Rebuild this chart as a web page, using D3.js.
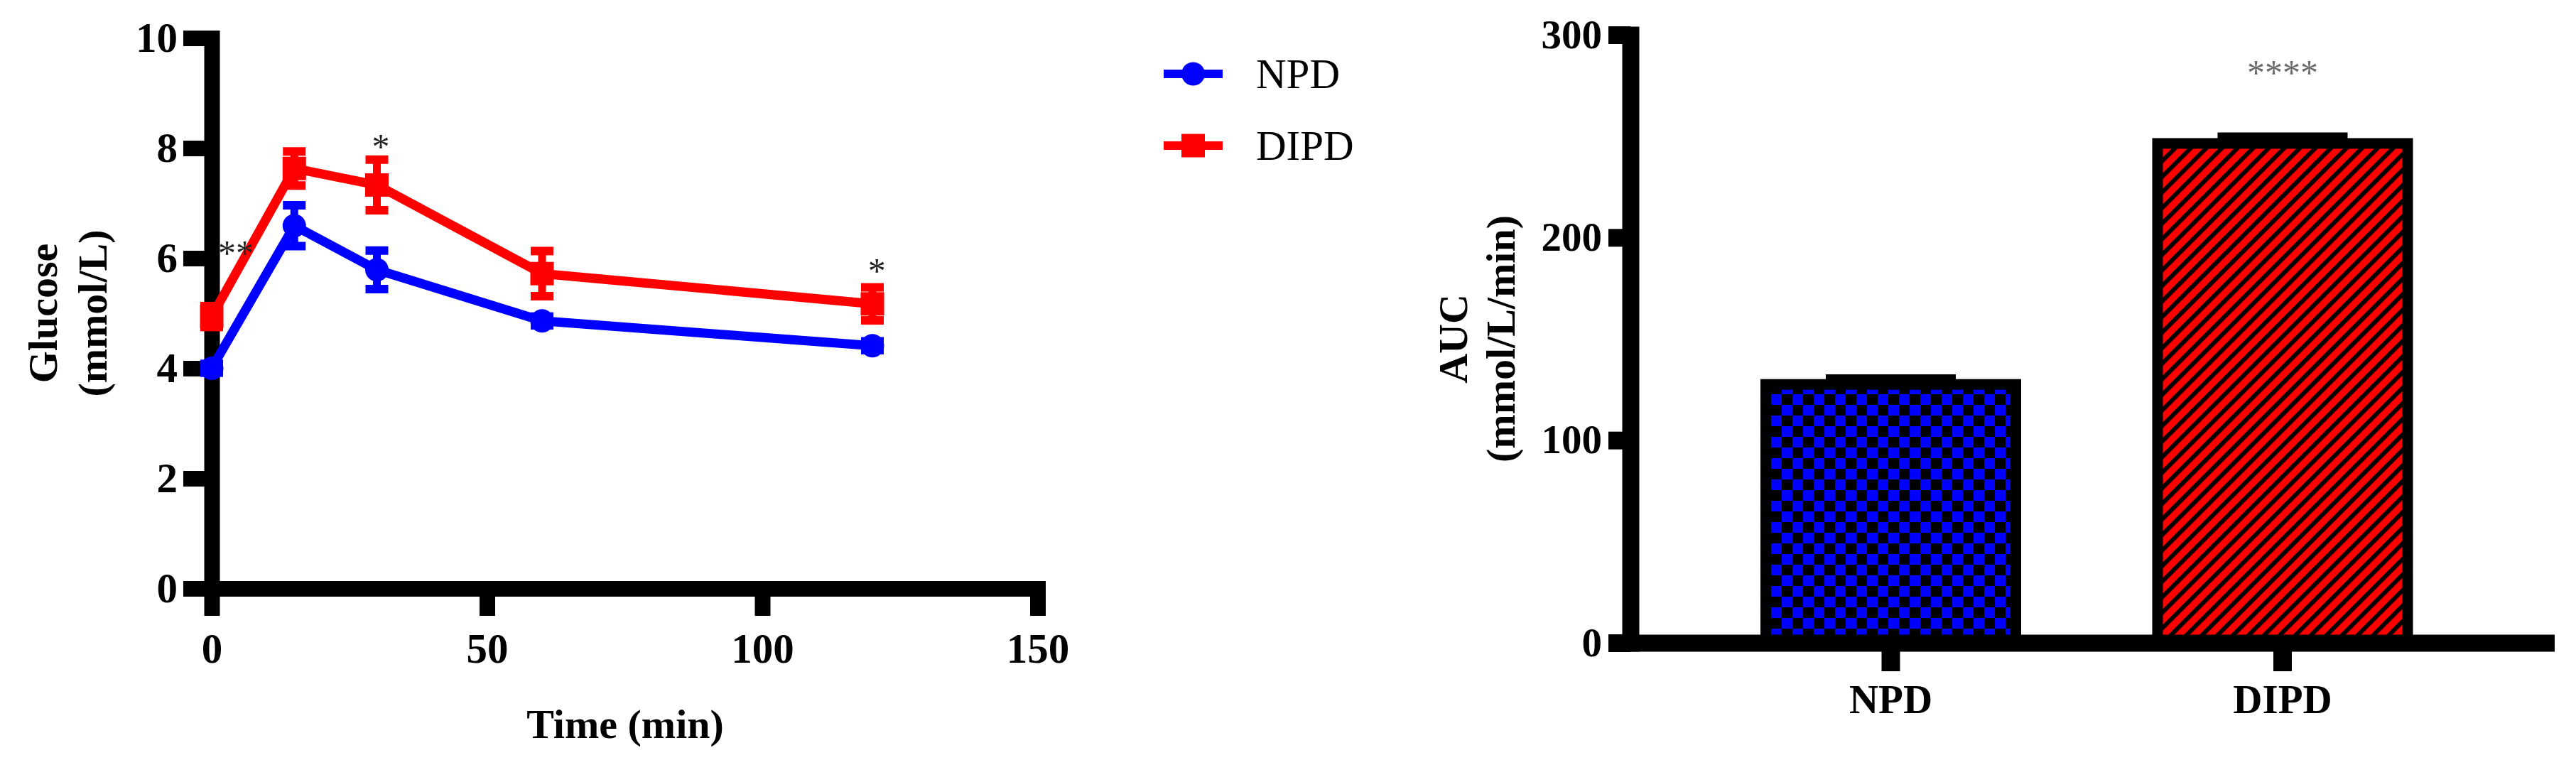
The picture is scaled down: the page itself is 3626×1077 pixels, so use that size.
<!DOCTYPE html>
<html>
<head>
<meta charset="utf-8">
<script src="https://cdn.jsdelivr.net/npm/d3@7"></script>
<style>
  html, body { margin: 0; padding: 0; background: #fff; }
  svg { display: block; }
</style>
</head>
<body>
<svg id="chart" width="3626" height="1077"></svg>
<script>
// ---------------- DATA ----------------
const times = [0, 15, 30, 60, 120];
const npdMean = [4.0, 6.59, 5.79, 4.86, 4.41];
const npdSem = [0.08, 0.37, 0.35, 0.08, 0.08];
const dipdMean = [4.94, 7.63, 7.33, 5.72, 5.17];
const dipdSem = [0.19, 0.31, 0.46, 0.41, 0.30];
const seriesNames = ["NPD", "DIPD"];
const glucoseTicks = [0, 2, 4, 6, 8, 10];
const timeTicks = [0, 50, 100, 150];
const curveStars = [
  { t: 4.4, v: 6.2, label: "**" },
  { t: 30.7, v: 8.14, label: "*" },
  { t: 120.8, v: 5.88, label: "*" }
];
const aucGroups = ["NPD", "DIPD"];
const aucMean = [127.5, 246.4];
const aucSem = [2.5, 3.0];
const aucTicks = [0, 100, 200, 300];
const barStars = [{ group: "DIPD", v: 284.4, label: "****" }];

// ---------------- SETUP ----------------
const FONT = "'Liberation Serif', 'Times New Roman', Times, serif";
const BLUE = "#0000ff", RED = "#ff0000";
const svg = d3.select("#chart");
svg.append("rect").attr("width", 3626).attr("height", 1077).attr("fill", "#fff");

const defs = svg.append("defs");
// checkerboard for NPD bar
const chk = defs.append("pattern").attr("id", "checker")
  .attr("patternUnits", "userSpaceOnUse").attr("width", 30).attr("height", 30)
  .attr("x", 2493).attr("y", 0);
chk.append("rect").attr("width", 30).attr("height", 30).attr("fill", BLUE);
chk.append("rect").attr("width", 15).attr("height", 15).attr("fill", "#000");
chk.append("rect").attr("x", 15).attr("y", 15).attr("width", 15).attr("height", 15).attr("fill", "#000");
// diagonal hatch for DIPD bar
const hat = defs.append("pattern").attr("id", "hatch")
  .attr("patternUnits", "userSpaceOnUse").attr("width", 15.5).attr("height", 20)
  .attr("patternTransform", "rotate(45)");
hat.append("rect").attr("width", 15.5).attr("height", 20).attr("fill", RED);
hat.append("rect").attr("width", 6).attr("height", 20).attr("fill", "#000");

// ---------------- LEFT: line chart ----------------
const x = d3.scaleLinear().domain([0, 150]).range([298, 1460.5]);
const y = d3.scaleLinear().domain([0, 10]).range([828.5, 53.5]);

function styleAxis(g, w, fs) {
  g.select(".domain").attr("stroke", "#000").attr("stroke-width", w).attr("stroke-linecap", "square");
  g.selectAll(".tick line").attr("stroke", "#000").attr("stroke-width", w);
  g.selectAll(".tick text").attr("fill", "#000").attr("font-family", FONT)
    .attr("font-weight", "bold").attr("font-size", fs);
}

const gy = svg.append("g").attr("transform", `translate(${x(0)},0)`)
  .call(d3.axisLeft(y).tickValues(glucoseTicks).tickSize(40).tickSizeOuter(0).tickPadding(8));
styleAxis(gy, 22, 59);

const gx = svg.append("g").attr("transform", `translate(0,${y(0)})`)
  .call(d3.axisBottom(x).tickValues(timeTicks).tickSize(38.5).tickSizeOuter(0).tickPadding(24.5));
styleAxis(gx, 22, 59);

// axis titles
svg.append("text").attr("x", 880).attr("y", 1039).attr("text-anchor", "middle")
  .attr("font-family", FONT).attr("font-weight", "bold").attr("font-size", 58).text("Time (min)");
const ylab = svg.append("g").attr("font-family", FONT).attr("font-weight", "bold")
  .attr("font-size", 58).attr("text-anchor", "middle");
ylab.append("text").attr("transform", `translate(80,${(y(0) + y(10)) / 2}) rotate(-90)`).text("Glucose");
ylab.append("text").attr("transform", `translate(150,${(y(0) + y(10)) / 2}) rotate(-90)`).text("(mmol/L)");

const series = [
  { name: seriesNames[0], mean: npdMean, sem: npdSem, color: BLUE, shape: "circle" },
  { name: seriesNames[1], mean: dipdMean, sem: dipdSem, color: RED, shape: "square" }
];

const line = d3.line().x(d => x(d.t)).y(d => y(d.m));

function drawMarker(g, shape, cx, cy, color) {
  if (shape === "circle") {
    g.append("circle").attr("cx", cx).attr("cy", cy).attr("r", 16.5).attr("fill", color);
  } else {
    g.append("rect").attr("x", cx - 16.5).attr("y", cy - 16.5).attr("width", 33).attr("height", 33).attr("fill", color);
  }
}

series.forEach(s => {
  const pts = times.map((t, i) => ({ t, m: s.mean[i], e: s.sem[i] }));
  const g = svg.append("g");
  g.append("path").datum(pts).attr("d", line).attr("fill", "none")
    .attr("stroke", s.color).attr("stroke-width", 13).attr("stroke-linejoin", "round");
  pts.forEach(p => {
    const cx = x(p.t);
    g.append("line").attr("x1", cx).attr("x2", cx).attr("y1", y(p.m - p.e)).attr("y2", y(p.m + p.e))
      .attr("stroke", s.color).attr("stroke-width", 11);
    [p.m - p.e, p.m + p.e].forEach(v => {
      g.append("line").attr("x1", cx - 16).attr("x2", cx + 16).attr("y1", y(v)).attr("y2", y(v))
        .attr("stroke", s.color).attr("stroke-width", 12);
    });
    drawMarker(g, s.shape, cx, y(p.m), s.color);
  });
});

// significance stars on curve
curveStars.forEach(a => {
  svg.append("text").attr("x", x(a.t)).attr("y", y(a.v) + 25).attr("text-anchor", "middle")
    .attr("font-family", FONT).attr("font-size", 50).attr("fill", "#222").text(a.label);
});

// legend
const leg = svg.append("g");
series.forEach((s, i) => {
  const ly = 104 + i * 101;
  leg.append("line").attr("x1", 1638).attr("x2", 1721).attr("y1", ly).attr("y2", ly)
    .attr("stroke", s.color).attr("stroke-width", 12);
  drawMarker(leg, s.shape, 1679.5, ly, s.color);
  leg.append("text").attr("x", 1768).attr("y", ly + 20).attr("font-family", FONT)
    .attr("font-size", 59).attr("fill", "#000").text(s.name);
});

// ---------------- RIGHT: bar chart ----------------
const yA = d3.scaleLinear().domain([0, 300]).range([905, 49]);
const xA = d3.scaleBand().domain(aucGroups).range([2295, 3579.5]).paddingInner(0.3617).paddingOuter(0.3454);
const fills = ["url(#checker)", "url(#hatch)"];

const bars = svg.append("g");
aucGroups.forEach((grp, i) => {
  const bx = xA(grp), bw = xA.bandwidth();
  const top = yA(aucMean[i]);
  const cx = bx + bw / 2;
  bars.append("line").attr("x1", cx).attr("x2", cx).attr("y1", top).attr("y2", yA(aucMean[i] + aucSem[i]))
    .attr("stroke", "#000").attr("stroke-width", 14);
  bars.append("line").attr("x1", cx - 91.5).attr("x2", cx + 91.5)
    .attr("y1", yA(aucMean[i] + aucSem[i])).attr("y2", yA(aucMean[i] + aucSem[i]))
    .attr("stroke", "#000").attr("stroke-width", 14);
  bars.append("rect").attr("x", bx).attr("y", top).attr("width", bw).attr("height", yA(0) - top)
    .attr("fill", fills[i]).attr("stroke", "#000").attr("stroke-width", 15);
});

const gyA = svg.append("g").attr("transform", `translate(2295,0)`)
  .call(d3.axisLeft(yA).tickValues(aucTicks).tickSize(31).tickSizeOuter(0).tickPadding(9));
styleAxis(gyA, 24, 57);
gyA.selectAll(".tick line").attr("stroke-width", 25);

const gxA = svg.append("g").attr("transform", `translate(0,${yA(0)})`)
  .call(d3.axisBottom(xA).tickSize(40).tickSizeOuter(0).tickPadding(18.7));
styleAxis(gxA, 24, 57);
gxA.select(".domain").attr("d", `M2283,0.5H3596`).attr("stroke-linecap", "butt");
gxA.selectAll(".tick line").attr("stroke-width", 26);

barStars.forEach(a => {
  svg.append("text").attr("x", xA(a.group) + xA.bandwidth() / 2).attr("y", yA(a.v) + 25)
    .attr("text-anchor", "middle").attr("font-family", FONT).attr("font-size", 50)
    .attr("fill", "#6a6a6a").text(a.label);
});

const ylabA = svg.append("g").attr("font-family", FONT).attr("font-weight", "bold")
  .attr("font-size", 58).attr("text-anchor", "middle");
ylabA.append("text").attr("transform", `translate(2065,${(yA(0) + yA(300)) / 2}) rotate(-90)`).text("AUC");
ylabA.append("text").attr("transform", `translate(2132,${(yA(0) + yA(300)) / 2}) rotate(-90)`).text("(mmol/L/min)");
</script>
</body>
</html>
